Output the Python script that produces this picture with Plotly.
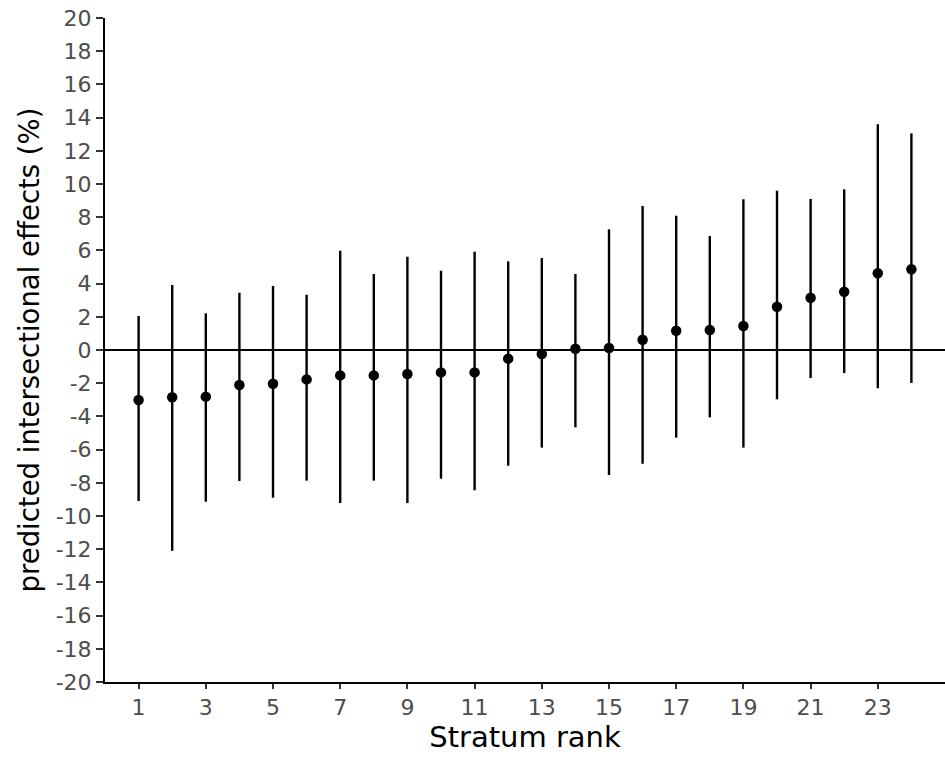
import plotly.graph_objects as go

rank = list(range(1, 25))
estimate = [-3.01, -2.85, -2.81, -2.11, -2.03, -1.77, -1.53, -1.53, -1.45, -1.35, -1.35, -0.52,
            -0.24, 0.08, 0.12, 0.62, 1.16, 1.20, 1.45, 2.61, 3.15, 3.51, 4.62, 4.86]
upper = [2.05, 3.92, 2.21, 3.45, 3.86, 3.33, 5.98, 4.58, 5.62, 4.78, 5.92, 5.34,
         5.54, 4.58, 7.27, 8.67, 8.09, 6.87, 9.08, 9.60, 9.10, 9.68, 13.60, 13.05]
lower = [-9.10, -12.09, -9.14, -7.89, -8.90, -7.87, -9.22, -7.87, -9.22, -7.75, -8.45, -6.97,
         -5.88, -4.66, -7.53, -6.85, -5.28, -4.06, -5.88, -2.97, -1.69, -1.39, -2.31, -1.99]
x_ticks = list(range(1, 25, 2))
y_ticks = list(range(-20, 21, 2))
y_ticktext = [str(v) for v in y_ticks]

fig = go.Figure()
fig.add_trace(go.Scatter(
    x=rank, y=estimate, mode="markers",
    marker=dict(color="black", size=10.5),
    error_y=dict(type="data", symmetric=False,
                 array=[u - e for u, e in zip(upper, estimate)],
                 arrayminus=[e - l for e, l in zip(estimate, lower)],
                 color="black", thickness=2.4, width=0),
    showlegend=False,
))
fig.add_hline(y=0, line=dict(color="black", width=1.8))

fig.update_layout(
    width=945, height=757,
    margin=dict(l=105, r=0, t=18, b=75),
    paper_bgcolor="white", plot_bgcolor="white",
    font=dict(family="DejaVu Sans, sans-serif"),
    xaxis=dict(range=[0, 25], tickvals=x_ticks, showgrid=False, zeroline=False,
               showline=True, linecolor="black", linewidth=2,
               ticks="outside", ticklen=5, tickwidth=1.5, tickcolor="#333333",
               tickfont=dict(size=22, color="#4D4D4D"),
               title=dict(text="Stratum rank", font=dict(size=29, color="black"), standoff=4)),
    yaxis=dict(range=[-20, 20], tickvals=y_ticks, ticktext=y_ticktext, showgrid=False, zeroline=False,
               showline=True, linecolor="black", linewidth=2,
               ticks="outside", ticklen=7, tickwidth=1.5, tickcolor="#333333",
               tickfont=dict(size=22, color="#4D4D4D"), ticklabeloverflow="allow",
               title=dict(text="predicted intersectional effects (%)", font=dict(size=27.5, color="black"), standoff=8)),
)
fig.write_html("out.html", config={"displayModeBar": False},
               post_script="document.body.style.margin='0';")
